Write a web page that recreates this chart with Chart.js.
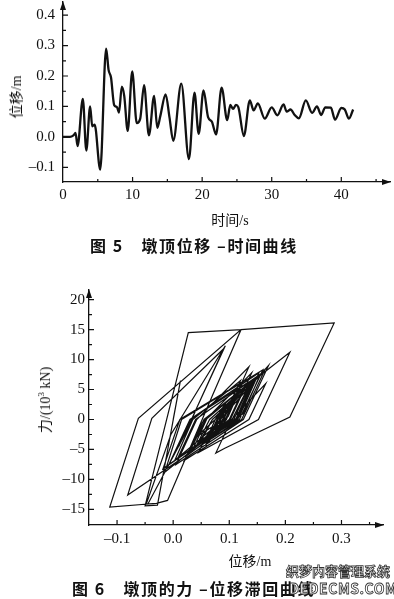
<!DOCTYPE html>
<html>
<head>
<meta charset="utf-8">
<script src="https://cdn.jsdelivr.net/npm/chart.js@4.4.1/dist/chart.umd.min.js"></script>
<style>
  body { margin: 0; background: #fff; width: 394px; height: 599px; position: relative; overflow: hidden; }
  .box { position: absolute; left: 0; }
  .txt { position: absolute; white-space: nowrap; color: #111; font-family: "Liberation Serif", "Noto Sans CJK SC", serif; font-size: 14px; }
  .cap { font-family: "Noto Sans CJK SC", sans-serif; font-weight: 700; font-size: 16px; letter-spacing: 1.6px; }
  .rot { transform: translate(-50%, -50%) rotate(-90deg); }
  .ctr { transform: translate(-50%, -50%); }
  .wm { position: absolute; font-family: "Noto Sans CJK SC", sans-serif; font-weight: 700; color: #fff;
        -webkit-text-stroke: 0.8px #333; white-space: nowrap; }
</style>
</head>
<body>
<div class="box" style="top:0"><canvas id="c1" width="394" height="215"></canvas></div>
<div class="box" style="top:270px"><canvas id="c2" width="394" height="290"></canvas></div>

<div class="txt rot" style="left:15px; top:97px">位移/m</div>
<div class="txt ctr" style="left:230px; top:219px">时间/s</div>
<div class="txt cap" style="left:90px; top:233px">图 5　墩顶位移 –时间曲线</div>

<div class="txt rot" style="left:44px; top:400px">力/(10<sup style="font-size:9px">3</sup> kN)</div>
<div class="txt ctr" style="left:250px; top:560px">位移/m</div>
<div class="txt cap" style="left:72px; top:576px">图 6　墩顶的力 –位移滞回曲线</div>
<div class="wm" style="left:286px; top:561px; font-size:13px">织梦内容管理系统</div>
<div class="wm" style="left:289px; top:578px; font-size:14px; letter-spacing:0.5px">DEDECMS.COM</div>

<script>
// Fig 5: pier top displacement vs time
const timeS = [0.0, 1.0, 1.5, 1.8, 2.1, 2.85, 3.35, 3.9, 4.2, 4.55, 5.35, 6.2, 6.55, 6.9, 7.35, 7.75, 8.05, 8.45, 8.8, 9.3,
  9.95, 10.6, 11.1, 11.65, 12.35, 13.1, 13.55, 14.0, 14.75, 15.3, 15.85, 17.0, 18.1, 18.9, 19.5, 20.2, 20.85, 21.4, 22.0, 22.8,
  23.6, 24.05, 24.45, 24.85, 25.2, 26.0, 26.85, 27.4, 28.0, 29.0, 30.0, 30.8, 31.7, 32.15, 32.7, 33.3, 33.9, 34.9, 35.8, 36.5,
  37.1, 37.7, 38.5, 39.1, 40.0, 40.5, 41.1, 41.7];
const dispM = [0.0, 0.0, 0.005, 0.013, -0.03, 0.125, -0.045, 0.10, 0.035, 0.04, -0.107, 0.29, 0.22, 0.195, 0.105, 0.098, 0.08, 0.165, 0.135, 0.02,
  0.215, 0.045, 0.06, 0.17, 0.005, 0.135, 0.03, 0.07, 0.14, 0.065, -0.013, 0.175, -0.073, 0.145, 0.01, 0.153, 0.065, 0.05, 0.008, 0.162,
  0.055, 0.105, 0.092, 0.105, 0.098, 0.003, 0.12, 0.087, 0.11, 0.06, 0.097, 0.071, 0.107, 0.083, 0.09, 0.072, 0.061, 0.12, 0.079, 0.10,
  0.072, 0.097, 0.096, 0.057, 0.095, 0.09, 0.06, 0.09];
const timeTicks = [0, 10, 20, 30, 40];
const dispTicks = [-0.1, 0.0, 0.1, 0.2, 0.3, 0.4];

// Fig 6: force-displacement hysteresis
const hystDisp = [0.000, 0.013, -0.028, -0.050, 0.027, 0.121, 0.070, -0.010, -0.030, -0.048,
  -0.004, 0.093, 0.035, 0.040, 0.025, -0.045, -0.113, -0.062, 0.121, 0.287,
  0.208, 0.092, 0.076, 0.104, 0.165, 0.135, 0.020, 0.055, 0.208, 0.152,
  0.045, 0.062, 0.170, 0.125, 0.005, 0.042, 0.135, 0.093, 0.030, 0.058,
  0.140, 0.102, -0.015, 0.015, 0.160, 0.118, -0.081, -0.038, 0.090, 0.035,
  0.010, 0.030, 0.153, 0.115, 0.065, 0.052, 0.008, 0.040, 0.162, 0.122,
  0.055, 0.080, 0.150, 0.118, 0.025, 0.052, 0.145, 0.112, 0.040, 0.065,
  0.155, 0.125, -0.008, 0.030, 0.130, 0.100, 0.035, 0.062, 0.148, 0.115,
  0.045, 0.070, 0.135, 0.108, 0.028, 0.058, 0.142, 0.110, 0.050,
  0.070, 0.138, 0.105, -0.018, 0.012, 0.125, 0.098, 0.040,
  0.075, 0.105, 0.092, 0.105, 0.098, 0.090, 0.003, 0.035, 0.120,
  0.088, 0.087, 0.110, 0.095, 0.060, 0.078, 0.097, 0.085, 0.071, 0.080,
  0.107, 0.083, 0.090, 0.072, 0.061, 0.080, 0.120, 0.095, 0.079, 0.088,
  0.100, 0.088, 0.072, 0.083, 0.097, 0.096, 0.085, 0.057, 0.075, 0.095,
  0.090, 0.080, 0.060, 0.075, 0.090];
const hystForce = [0.0, 6.5, -14.3, -14.4, 14.5, 15.0, 4.0, -13.5, -14.0, -14.1,
  -2.5, 12.3, 0.5, 1.5, -1.8, -14.1, -14.6, 0.2, 15.0, 16.1,
  0.4, -4.8, -5.6, 0.0, 6.0, 0.0, -6.8, 0.0, 11.2, 0.0,
  -5.5, -2.3, 9.0, 0.0, -7.5, 0.0, 8.8, 0.0, -5.2, 0.0,
  7.8, 0.0, -8.8, 0.0, 8.3, 0.0, -12.6, 0.2, 11.8, 0.5,
  -4.5, 0.0, 7.8, 0.0, -3.0, -3.5, -6.5, 0.0, 8.0, 0.0,
  -4.0, 0.0, 7.2, 0.5, -6.0, -0.5, 6.8, 0.0, -4.6, 0.0,
  7.5, 1.0, -7.6, 0.0, 6.0, 0.0, -5.0, 0.5, 7.0, 0.2,
  -4.0, 0.0, 5.5, 0.0, -5.4, 0.0, 6.6, -0.3, -3.6,
  0.0, 6.2, 0.0, -8.2, 0.0, 6.4, 0.5, -3.0,
  0.0, 3.2, 0.5, 3.0, 1.6, 0.0, -6.8, 0.0, 6.5,
  0.0, -0.2, 3.2, 0.0, -3.8, 0.0, 2.6, 0.0, -2.0, 0.0,
  3.4, -1.4, 0.2, -2.6, -4.0, 0.0, 5.4, 0.0, -2.0, 0.0,
  2.2, 0.0, -2.5, 0.0, 2.4, 2.2, 0.0, -3.8, 0.0, 3.0,
  2.0, 0.0, -3.2, 0.0, 2.0];
const hystDispTicks = [-0.1, 0.0, 0.1, 0.2, 0.3];
const hystForceTicks = [-15, -10, -5, 0, 5, 10, 15, 20];

const fmt = v => (v < 0 ? '–' : '') + Math.abs(v).toFixed(1);
const fmtInt = v => (v < 0 ? '–' : '') + Math.abs(v);

// inward ticks (major + minor) and arrow heads on both axes
const axisDecor = {
  id: 'axisDecor',
  afterDraw(chart, args, o) {
    const { ctx, chartArea: a, scales: { x, y } } = chart;
    ctx.save();
    ctx.strokeStyle = '#111';
    ctx.fillStyle = '#111';
    ctx.lineWidth = 1.2;
    ctx.beginPath();
    o.xMinor.forEach(v => {
      const px = x.getPixelForValue(v);
      const len = o.xMajor.some(m => Math.abs(m - v) < 1e-9) ? 5 : 3;
      ctx.moveTo(px, a.bottom); ctx.lineTo(px, a.bottom - len);
    });
    o.yMinor.forEach(v => {
      const py = y.getPixelForValue(v);
      const len = o.yMajor.some(m => Math.abs(m - v) < 1e-9) ? 5 : 3;
      ctx.moveTo(a.left, py); ctx.lineTo(a.left + len, py);
    });
    ctx.stroke();
    ctx.beginPath();
    ctx.moveTo(a.left, a.top - 1); ctx.lineTo(a.left - 3, a.top + 8); ctx.lineTo(a.left + 3, a.top + 8); ctx.closePath();
    ctx.moveTo(a.right + 1, a.bottom); ctx.lineTo(a.right - 8, a.bottom - 3); ctx.lineTo(a.right - 8, a.bottom + 3); ctx.closePath();
    ctx.fill();
    ctx.restore();
  }
};

function steps(from, to, step) {
  const out = [];
  for (let v = from; v <= to + 1e-9; v += step) out.push(Math.round(v * 1000) / 1000);
  return out;
}

function axes(xr, yr, xTicks, yTicks, xFmt, yFmt, yWidth, xHeight, font, yPad, xPad) {
  const common = {
    grid: { display: false, drawTicks: false },
    border: { display: true, color: '#111', width: 1.3 }
  };
  return {
    x: Object.assign({}, common, {
      type: 'linear', min: xr[0], max: xr[1],
      afterBuildTicks: s => { s.ticks = xTicks.map(v => ({ value: v })); },
      afterFit: s => { s.height = xHeight; s.paddingLeft = 0; s.paddingRight = 0; },
      ticks: { callback: xFmt, color: '#111', font: font, padding: xPad, maxRotation: 0, autoSkip: false }
    }),
    y: Object.assign({}, common, {
      type: 'linear', min: yr[0], max: yr[1],
      afterBuildTicks: s => { s.ticks = yTicks.map(v => ({ value: v })); },
      afterFit: s => { s.width = yWidth; s.paddingTop = 0; s.paddingBottom = 0; },
      ticks: { callback: yFmt, color: '#111', font: font, padding: yPad, autoSkip: false }
    })
  };
}

new Chart(document.getElementById('c1'), {
  type: 'scatter',
  data: {
    datasets: [{
      data: timeS.map((t, i) => ({ x: t, y: dispM[i] })),
      showLine: true,
      borderColor: '#111',
      borderWidth: 2.3,
      pointRadius: 0,
      cubicInterpolationMode: 'monotone'
    }]
  },
  options: {
    responsive: false,
    devicePixelRatio: 1,
    animation: false,
    layout: { padding: { left: 0, right: 4, top: 2, bottom: 0 } },
    plugins: {
      legend: { display: false }, tooltip: { enabled: false },
      axisDecor: { xMajor: timeTicks, xMinor: steps(5, 45, 5), yMajor: dispTicks, yMinor: steps(-0.1, 0.4, 0.05) }
    },
    scales: axes([0, 47], [-0.148, 0.443], timeTicks, dispTicks,
      v => String(v), fmt, 63, 33, { family: 'Liberation Serif', size: 15 }, 8, 4)
  },
  plugins: [axisDecor]
});

new Chart(document.getElementById('c2'), {
  type: 'scatter',
  data: {
    datasets: [{
      data: hystDisp.map((d, i) => ({ x: d, y: hystForce[i] })),
      showLine: true,
      borderColor: '#111',
      borderWidth: 1.2,
      pointRadius: 0,
      tension: 0
    }]
  },
  options: {
    responsive: false,
    devicePixelRatio: 1,
    animation: false,
    layout: { padding: { left: 0, right: 11, top: 20, bottom: 0 } },
    plugins: {
      legend: { display: false }, tooltip: { enabled: false },
      axisDecor: { xMajor: hystDispTicks, xMinor: steps(-0.1, 0.35, 0.05), yMajor: hystForceTicks, yMinor: steps(-15, 20, 2.5) }
    },
    scales: axes([-0.15, 0.374], [-17.6, 21.6], hystDispTicks, hystForceTicks,
      fmt, fmtInt, 89, 35, { family: 'Liberation Serif', size: 15 }, 4, 5)
  },
  plugins: [axisDecor]
});
</script>
</body>
</html>
